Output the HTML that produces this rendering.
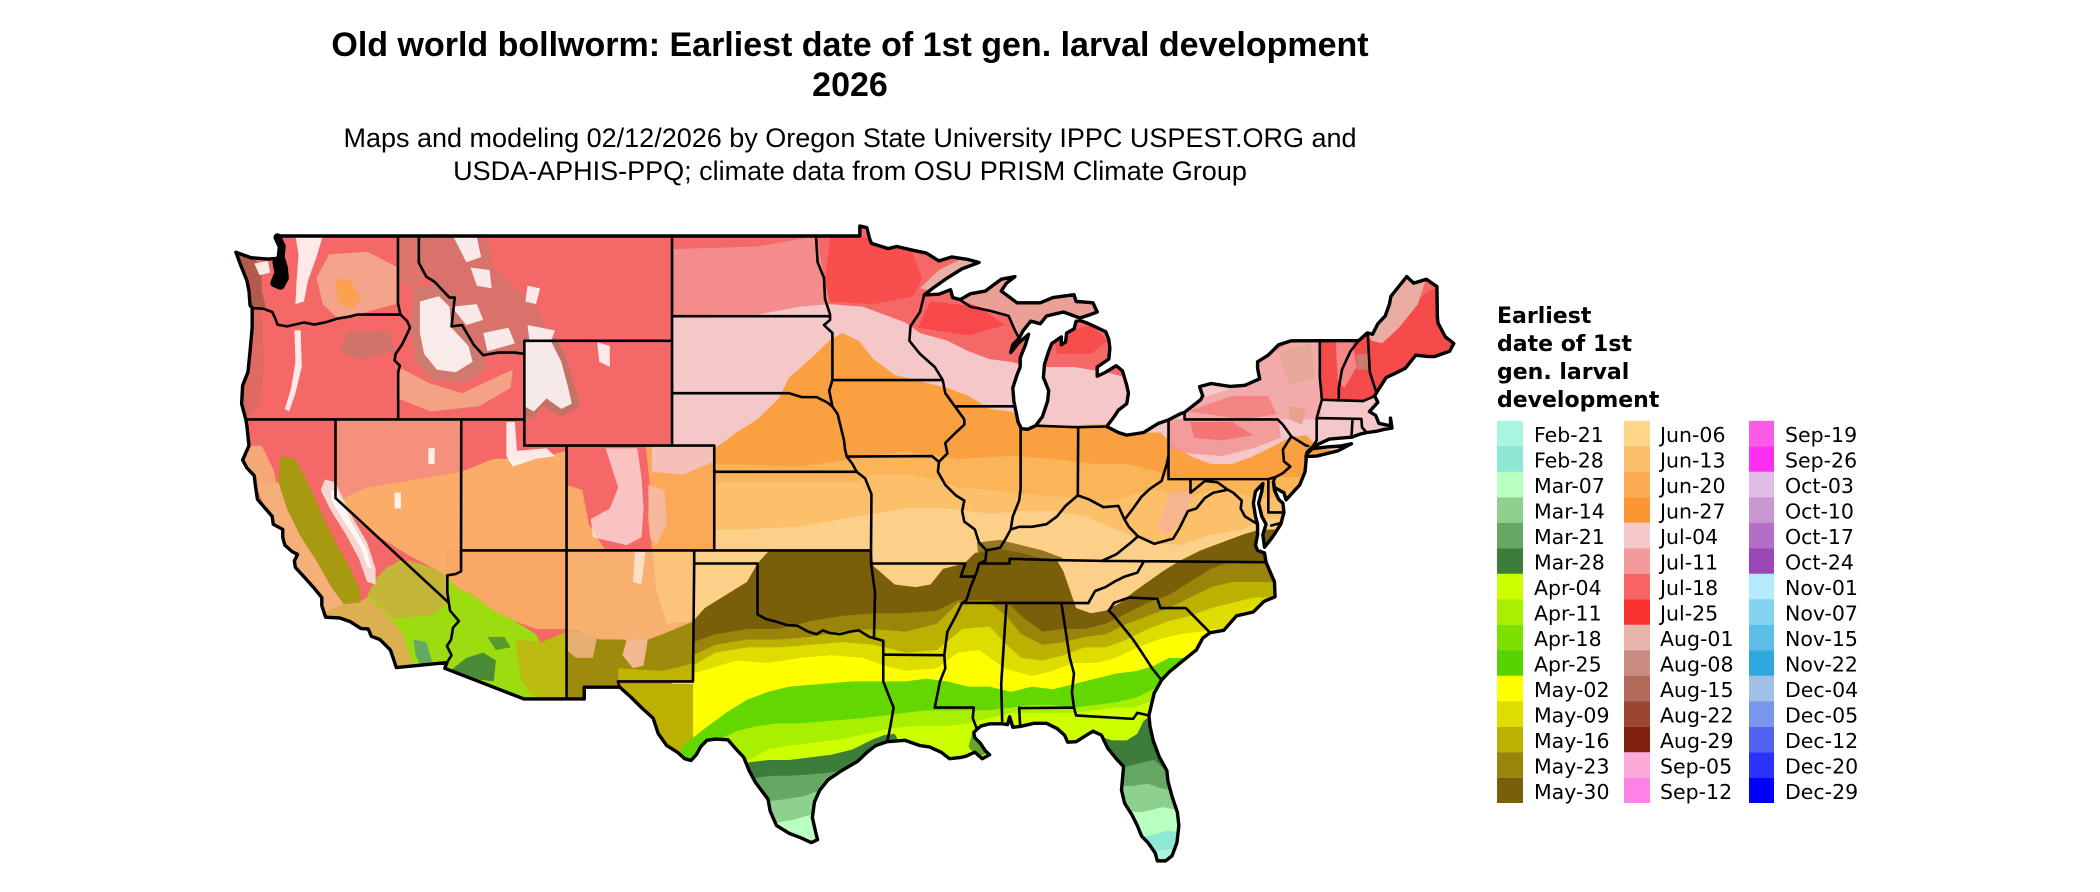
<!DOCTYPE html>
<html><head><meta charset="utf-8"><style>
html,body{margin:0;padding:0;background:#fff;width:2100px;height:892px;overflow:hidden}
svg{display:block}
.t{font-family:"Liberation Sans",Arial,sans-serif;fill:#000}
.l{font-family:"DejaVu Sans","Liberation Sans",sans-serif;fill:#000}
</style></head><body>
<svg width="2100" height="892" viewBox="0 0 2100 892" xmlns="http://www.w3.org/2000/svg" overflow="hidden">
<rect width="2100" height="892" fill="#fff"/>
<text class="t" x="850" y="56" font-size="34" font-weight="bold" text-anchor="middle">Old world bollworm: Earliest date of 1st gen. larval development</text>
<text class="t" x="850" y="96" font-size="34" font-weight="bold" text-anchor="middle">2026</text>
<text class="t" x="850" y="147" font-size="27" text-anchor="middle">Maps and modeling 02/12/2026 by Oregon State University IPPC USPEST.ORG and</text>
<text class="t" x="850" y="180" font-size="27" text-anchor="middle">USDA-APHIS-PPQ; climate data from OSU PRISM Climate Group</text>

<defs>
<clipPath id="us" clipPathUnits="userSpaceOnUse">
<path d="M-124.72,48.38 L-124.0,48.17 L-123.2,48.12 L-122.75,48.15 L-122.5,48.45 L-122.75,49.0 L-95.15,49.0 L-95.15,49.38 L-94.82,49.32 L-94.68,48.88 L-94.6,48.72 L-93.8,48.52 L-93.4,48.6 L-92.6,48.45 L-92.0,48.35 L-91.4,48.05 L-90.8,48.2 L-90.0,48.1 L-89.5,47.99 L-90.3,47.75 L-91.0,47.4 L-91.67,47.02 L-92.1,46.75 L-91.4,46.78 L-90.85,46.95 L-90.75,46.65 L-90.4,46.57 L-89.9,46.8 L-89.2,46.9 L-88.45,47.35 L-87.8,47.45 L-88.2,47.2 L-88.45,46.9 L-87.7,46.45 L-87.2,46.45 L-86.6,46.45 L-86.0,46.65 L-85.0,46.76 L-84.9,46.5 L-84.5,46.48 L-84.1,46.45 L-83.9,46.1 L-84.3,45.98 L-84.72,45.87 L-85.5,46.1 L-86.3,45.95 L-86.6,45.65 L-86.9,45.72 L-87.05,45.75 L-87.4,45.4 L-87.6,45.1 L-87.9,44.85 L-88.0,44.55 L-87.65,44.9 L-87.15,45.25 L-87.3,44.85 L-87.55,44.35 L-87.55,44.0 L-87.7,43.7 L-87.9,43.2 L-87.85,42.7 L-87.8,42.5 L-87.65,41.9 L-87.5,41.65 L-87.2,41.62 L-86.82,41.76 L-86.5,42.1 L-86.25,42.7 L-86.2,43.1 L-86.45,43.6 L-86.4,44.1 L-86.2,44.6 L-86.05,44.9 L-85.6,45.15 L-85.6,44.85 L-85.4,44.95 L-85.35,45.3 L-85.0,45.45 L-84.9,45.75 L-84.72,45.78 L-84.3,45.65 L-83.5,45.35 L-83.35,45.05 L-83.3,44.7 L-83.35,44.3 L-83.9,44.0 L-83.9,43.65 L-83.5,43.8 L-83.0,44.05 L-82.7,43.85 L-82.5,43.3 L-82.42,43.0 L-82.5,42.6 L-82.9,42.35 L-83.1,42.1 L-83.45,41.73 L-82.9,41.5 L-82.5,41.4 L-81.7,41.5 L-81.0,41.85 L-80.52,41.98 L-80.0,42.2 L-79.76,42.27 L-79.0,42.75 L-78.9,42.9 L-79.05,43.25 L-78.5,43.37 L-77.6,43.26 L-76.9,43.3 L-76.2,43.55 L-76.3,43.95 L-76.3,44.2 L-75.8,44.45 L-75.3,44.85 L-74.7,45.0 L-71.5,45.01 L-71.1,45.3 L-70.85,45.25 L-70.6,45.65 L-70.25,45.95 L-70.05,46.4 L-69.98,46.7 L-69.23,47.45 L-68.9,47.2 L-68.3,47.35 L-67.8,47.07 L-67.78,45.95 L-67.75,45.68 L-67.4,45.15 L-67.0,44.9 L-67.2,44.6 L-67.9,44.4 L-68.2,44.4 L-68.8,44.45 L-69.3,43.95 L-69.8,43.75 L-70.2,43.6 L-70.6,43.1 L-70.75,42.9 L-70.6,42.65 L-71.0,42.3 L-70.7,42.15 L-70.55,41.85 L-70.0,41.75 L-70.0,42.05 L-69.93,41.67 L-70.3,41.62 L-70.65,41.55 L-71.1,41.5 L-71.4,41.45 L-71.85,41.32 L-72.9,41.25 L-73.7,40.95 L-73.95,40.75 L-74.0,40.6 L-74.0,40.45 L-74.05,40.0 L-74.3,39.5 L-74.95,38.93 L-75.05,39.2 L-75.5,39.4 L-75.55,39.62 L-75.5,39.3 L-75.3,38.95 L-75.1,38.8 L-75.05,38.45 L-75.2,38.0 L-75.6,37.5 L-75.97,37.12 L-76.05,37.6 L-75.9,38.0 L-76.1,38.3 L-76.25,38.8 L-76.1,39.25 L-76.05,39.55 L-76.4,39.25 L-76.5,38.8 L-76.4,38.3 L-76.3,38.0 L-76.3,37.6 L-76.4,37.2 L-76.3,37.0 L-75.97,36.9 L-75.9,36.55 L-75.5,35.8 L-75.47,35.23 L-76.0,35.05 L-76.5,34.65 L-77.3,34.5 L-77.9,33.95 L-78.55,33.86 L-78.9,33.65 L-79.2,33.2 L-79.9,32.75 L-80.5,32.35 L-80.85,32.05 L-81.2,31.55 L-81.45,30.7 L-81.4,30.3 L-81.25,29.75 L-80.95,29.1 L-80.6,28.6 L-80.55,28.2 L-80.35,27.6 L-80.1,27.0 L-80.03,26.5 L-80.12,25.85 L-80.35,25.35 L-80.65,25.15 L-81.05,25.15 L-81.15,25.45 L-81.5,25.85 L-81.8,26.1 L-82.0,26.5 L-82.25,26.9 L-82.6,27.35 L-82.75,27.85 L-82.7,28.3 L-82.65,28.75 L-83.0,29.05 L-83.4,29.45 L-83.7,29.95 L-84.1,30.1 L-84.4,29.95 L-84.9,29.7 L-85.3,29.68 L-85.45,29.95 L-85.8,30.2 L-86.3,30.4 L-86.9,30.4 L-87.55,30.28 L-87.9,30.25 L-88.05,30.65 L-88.15,30.35 L-88.4,30.38 L-89.0,30.38 L-89.4,30.3 L-89.6,30.17 L-89.75,30.05 L-89.7,29.85 L-89.45,29.65 L-89.2,29.35 L-89.0,29.2 L-89.35,29.05 L-89.7,29.3 L-90.1,29.15 L-90.35,29.1 L-90.9,29.05 L-91.3,29.3 L-91.85,29.5 L-92.3,29.55 L-93.0,29.75 L-93.85,29.7 L-94.4,29.55 L-94.8,29.3 L-95.25,28.95 L-96.0,28.6 L-96.65,28.25 L-97.05,27.85 L-97.3,27.4 L-97.4,26.8 L-97.2,26.1 L-97.15,25.96 L-97.45,25.85 L-98.0,26.05 L-98.5,26.2 L-99.1,26.5 L-99.4,27.05 L-99.5,27.5 L-100.1,28.15 L-100.4,28.6 L-100.65,29.1 L-101.0,29.4 L-101.4,29.77 L-102.0,29.8 L-102.4,29.75 L-102.7,29.5 L-102.9,29.2 L-103.15,28.98 L-103.45,29.05 L-103.8,29.3 L-104.3,29.55 L-104.7,30.0 L-104.95,30.6 L-105.5,31.0 L-106.0,31.4 L-106.53,31.78 L-108.21,31.78 L-108.21,31.33 L-111.07,31.33 L-114.82,32.5 L-114.72,32.72 L-117.12,32.53 L-117.25,32.85 L-117.4,33.2 L-117.9,33.6 L-118.3,33.72 L-118.45,34.0 L-118.8,34.02 L-119.3,34.28 L-119.8,34.42 L-120.47,34.45 L-120.65,34.9 L-120.65,35.2 L-121.0,35.55 L-121.5,36.0 L-121.9,36.35 L-121.95,36.6 L-121.8,36.85 L-122.05,36.95 L-122.4,37.2 L-122.5,37.5 L-122.5,37.8 L-122.95,38.0 L-123.0,38.3 L-123.7,38.95 L-123.8,39.5 L-123.85,39.85 L-124.2,40.15 L-124.4,40.45 L-124.1,41.0 L-124.2,41.75 L-124.25,42.0 L-124.45,42.6 L-124.4,43.3 L-124.15,43.8 L-124.05,44.6 L-123.95,45.5 L-123.95,46.25 L-124.05,46.35 L-124.1,46.9 L-124.2,47.3 L-124.5,47.9 Z M-74.0,40.58 L-73.5,40.6 L-72.5,40.8 L-71.85,41.07 L-72.4,40.98 L-73.0,40.95 L-73.7,40.88 L-73.95,40.7 Z"/>
</clipPath>
</defs>

<g transform="matrix(21.1 0 0 -26.2 2867.5 1519.8)">
<g clip-path="url(#us)">
<rect x="-130" y="24.3" width="72" height="26" fill="#f56868"/>
<polygon fill="#f48c8c" points="-104.05,48.5 -100,48.6 -97.2,49 -96.5,46 -104.05,45.9"/>
<polygon fill="#f4c8c8" points="-104.05,45.9 -102,46.0 -100,46.0 -98,46.3 -96.6,46.4 -95,46.3 -94,46.0 -93,45.7 -92.3,45.3 -91,45.0 -90,44.6 -89,44.3 -88,44.2 -87.5,44.1 -86.5,44.0 -85,44.0 -83.5,43.8 -82,43.5 -80,43.0 -78,43.5 -76,44.3 -75,44.8 -74,45.2 -73.4,45.2 -73.3,43.0 -72.5,42.8 -71.5,42.8 -70.6,42.9 -69,43 -60,43 -60,24.3 -106.7,24.3 -106.7,31.9 -104.05,31.9"/>
<polygon fill="#fba040" points="-104.05,40.0 -102.5,40.6 -101,41.5 -100,42.0 -99,42.8 -98.5,43.6 -97.5,44.3 -96.6,45.0 -96,45.3 -95.2,45.0 -94.5,44.3 -93.5,43.7 -92,43.4 -91,43.2 -90,42.9 -89,42.4 -88,42.3 -87,41.9 -86,41.7 -84.5,41.8 -83.5,41.8 -82,41.5 -80.9,41.5 -80.5,41.2 -79.5,40.6 -78.5,40.3 -77.5,40.3 -76.5,40.6 -75.5,41.0 -74.8,41.3 -74,41.4 -73.5,41.0 -72,40.6 -60,40.6 -60,24.3 -106.7,24.3 -106.7,31.9 -104.05,31.9"/>
<polygon fill="#fcb458" points="-104.05,39.9 -102.05,40.3 -98,40.2 -95.3,40.5 -93,40.8 -90.5,40.5 -88,40.6 -86,40.5 -84,40.3 -82.5,40.3 -81,40.0 -80.5,39.8 -60,39.8 -60,24.3 -106.7,24.3 -106.7,31.9 -104.05,31.9"/>
<polygon fill="#fdc06a" points="-104.05,39.5 -102.05,39.6 -95.3,39.6 -94.5,39.9 -93,39.9 -91.5,39.7 -90.5,39.4 -89,39.3 -88,39.2 -86.5,39.1 -85,39.0 -84,38.9 -83,38.9 -82,39.2 -81.2,39.3 -80.5,39.2 -79.5,39.0 -78.5,39.3 -77.5,39.3 -76.5,39.0 -75.5,39.0 -74.5,39.3 -60,39.3 -60,24.3 -106.7,24.3 -106.7,31.9 -104.05,31.9"/>
<polygon fill="#fdd08a" points="-104.05,37.8 -101,37.8 -98,37.9 -96,38.2 -94.5,38.4 -93,38.6 -91,38.6 -89,38.4 -87.5,38.5 -86,38.5 -84.5,38.3 -83,37.8 -81.5,37.3 -80,37.2 -78.5,37.6 -77,37.8 -76,38.2 -60,38.2 -60,24.3 -106.7,24.3 -106.7,31.9 -104.05,31.9"/>
<polygon fill="#7a5f0a" points="-103.05,34.3 -102.5,34.8 -101.5,35.3 -100.5,35.8 -100,36.5 -99.5,36.95 -98,37.0 -94.6,37.0 -94.5,36.4 -93.5,35.7 -92.5,35.6 -91.8,35.7 -91.2,36.3 -90.2,36.5 -89.7,36.9 -88.5,37.05 -87.5,36.9 -86.5,36.7 -85.8,36.6 -85.5,36.2 -85.2,35.5 -84.9,34.8 -84.2,34.6 -83.5,34.7 -82.8,35.0 -82.2,35.4 -81.5,35.8 -80.8,36.2 -80,36.6 -79,37.0 -78,37.3 -77,37.6 -76.2,37.8 -60,37.8 -60,24.3 -106.7,24.3 -106.7,31.9 -103.05,31.9"/>
<polygon fill="#9a840a" points="-103.05,33.5 -102,33.8 -100.5,34.0 -99,34.0 -97.5,34.3 -96,34.5 -94.5,34.6 -93,34.6 -91.5,34.7 -90.5,35.1 -89,35.1 -88,34.9 -87.5,34.5 -86.5,33.9 -85.5,34.0 -84.5,34.0 -83.5,34.2 -82.5,34.6 -81.5,35.0 -80.5,35.3 -79.5,35.8 -78.5,36.3 -77.5,36.6 -76.5,36.6 -76,36.5 -60,36.5 -60,24.3 -106.7,24.3 -106.7,31.9 -103.05,31.9"/>
<polygon fill="#bcb000" points="-103.05,33.0 -102,33.4 -100.5,33.6 -99,33.6 -97.5,33.7 -96,33.9 -94.5,34.0 -93,33.9 -91.5,34.2 -90.5,35.0 -89,35.0 -88.2,34.5 -87.5,33.8 -86.5,33.4 -85.5,33.5 -84.5,33.7 -83.5,33.8 -82.5,34.2 -81.5,34.5 -80.5,34.8 -79.5,35.2 -78.5,35.6 -77.5,35.8 -76.5,35.8 -75.5,35.8 -60,35.8 -60,24.3 -106.7,24.3 -106.7,31.9 -103.05,31.9"/>
<polygon fill="#dddd00" points="-103.05,32.6 -102,33.1 -100.5,33.3 -99,33.3 -97.5,33.4 -96,33.5 -94.5,33.4 -93,33.1 -91.5,33.2 -90.3,34.0 -89,34.1 -88.2,33.4 -87.5,32.9 -86.5,32.8 -85.5,33.0 -84.5,33.3 -83.5,33.3 -82.5,33.6 -81.5,34.0 -80.5,34.3 -79.5,34.5 -78.5,34.8 -77.5,35.0 -76.5,35.2 -60,35.2 -60,24.3 -103.05,24.3"/>
<polygon fill="#ffff00" points="-103.05,32.3 -101,32.8 -99.5,32.7 -98,32.9 -96.5,33.0 -95,32.9 -94,32.6 -93,32.4 -91.5,32.5 -90.5,33.1 -89.5,33.2 -88.3,32.5 -87,32.2 -86,32.4 -85,32.7 -84,32.7 -83,32.9 -82,33.3 -81,33.6 -80,33.8 -79,33.9 -78.5,34.0 -60,34.0 -60,24.3 -103.05,24.3"/>
<polygon fill="#62d800" points="-103.6,29.5 -102.5,30.2 -101.5,30.8 -100.5,31.3 -99.5,31.6 -98.5,31.8 -97,31.9 -95.5,32.0 -94,32.0 -93,32.0 -92,32.1 -91,32.0 -90,31.8 -89,31.8 -88,31.6 -87,31.8 -86,31.7 -85,31.9 -84,32.1 -83,32.3 -82,32.4 -81.2,32.6 -80.5,32.9 -60,32.9 -60,24.3 -103.6,24.3"/>
<polygon fill="#a8f000" points="-103.2,29.0 -102,29.7 -101,30.1 -100,30.3 -99,30.4 -98,30.4 -96.5,30.5 -95,30.6 -94,30.7 -93,30.8 -92,30.9 -91,30.9 -90,30.9 -89,30.9 -88,31.0 -87,31.1 -86,31.1 -85,31.0 -84,31.1 -83,31.2 -82,31.4 -81.5,31.6 -81,31.8 -60,31.8 -60,24.3 -103.2,24.3"/>
<polygon fill="#ccff00" points="-100.6,28.9 -99.5,29.4 -98.5,29.55 -97.5,29.65 -96,29.8 -94.8,30.0 -93.8,30.2 -92.5,30.3 -91,30.3 -90,30.4 -89,30.6 -88,30.8 -87,30.8 -86,30.8 -85,30.8 -84,30.9 -83,31.0 -82.2,31.0 -81.5,31.2 -60,31.2 -60,24.3 -100.6,24.3"/>
<polygon fill="#3c7d3c" points="-100.5,28.9 -99.5,29.0 -98.5,29.0 -97.5,29.1 -96.5,29.2 -95.5,29.4 -95,29.6 -94.5,29.8 -94,29.95 -93.5,30.0 -93.3,29.7 -93.3,24.3 -100.5,24.3"/>
<polygon fill="#64a864" points="-100.2,28.3 -99.3,28.4 -98.5,28.4 -97.5,28.45 -96.8,28.5 -96,28.6 -96,24.3 -100.2,24.3"/>
<polygon fill="#8ed08e" points="-99.7,27.4 -98.7,27.5 -97.9,27.6 -97.2,27.8 -96.5,27.9 -96.5,24.3 -99.7,24.3"/>
<polygon fill="#b8ffc0" points="-99.2,26.6 -98.4,26.7 -97.5,26.9 -96.8,27.0 -96.8,24.3 -99.2,24.3"/>
<polygon fill="#3c7d3c" points="-84.2,30.0 -83.2,29.75 -82.5,29.75 -82.0,30.0 -81.7,30.5 -81.2,30.75 -80.4,29.5 -79.5,27.5 -79.5,24.3 -84.2,24.3"/>
<polygon fill="#64a864" points="-83.5,28.8 -82.5,28.75 -81.8,28.9 -81.2,29.0 -80.6,28.6 -79.5,28.0 -79.5,24.3 -83.5,24.3"/>
<polygon fill="#8ed08e" points="-83.5,28.1 -82.3,28.0 -81.5,28.1 -80.8,27.9 -79.5,27.8 -79.5,24.3 -83.5,24.3"/>
<polygon fill="#b8ffc0" points="-83,27.1 -81.8,27.0 -80.8,27.2 -79.5,27.0 -79.5,24.3 -83,24.3"/>
<polygon fill="#8ee8d4" points="-82.5,26.1 -81.5,26.1 -80.6,26.3 -79.5,26.2 -79.5,24.3 -82.5,24.3"/>
<polygon fill="#aaf5e0" points="-81.5,25.5 -80.5,25.6 -79.5,25.5 -79.5,24.3 -81.5,24.3"/>
<polygon fill="#3c7d3c" fill-opacity="0.7" points="-89.8,30.1 -89.3,30.0 -89.0,29.3 -89.6,29.1 -90.0,29.5"/>
<polygon fill="#7a5f0a" fill-opacity="0.8" points="-89.6,37.3 -88.5,37.4 -87.5,37.2 -86.5,37.0 -85.5,36.7 -86.5,36.5 -89.5,36.5"/>
<polygon fill="#f2a4a4" fill-opacity="0.85" points="-79.8,42.3 -79.0,42.8 -76.3,43.5 -76.2,44.2 -74.7,45.05 -73.35,45.05 -73.3,42.0 -75.3,42.0 -79.76,42.0"/>
<polygon fill="#f29494" fill-opacity="0.85" points="-80.52,42.0 -75.3,42.0 -75.2,41.3 -76.5,40.9 -78,40.6 -79.5,40.7 -80.52,40.9"/>
<polygon fill="#f65a5a" fill-opacity="0.6" points="-79.5,41.9 -77.5,41.9 -76.5,41.4 -78,41.2 -79.3,41.3"/>
<polygon fill="#f44a4a" points="-73.35,45.1 -71.5,45.1 -67,47.5 -66.5,44.5 -70.8,42.87 -71.3,42.7 -72.45,42.73 -73.25,42.75"/>
<polygon fill="#e8aca2" points="-71.1,45.3 -70.0,46.7 -69.2,47.5 -68.3,47.4 -68.7,46.4 -69.6,45.5 -70.4,44.9 -70.9,45.0"/>
<polygon fill="#f4a0a0" fill-opacity="0.7" points="-72.6,45 -71.8,45 -71.6,44 -72.2,43.2 -72.5,43.5"/>
<polygon fill="#c08878" fill-opacity="0.8" points="-71.6,44.5 -71.0,44.5 -71.1,43.9 -71.6,43.9"/>
<polygon fill="#e6a898" points="-75.3,44.6 -73.8,44.9 -73.6,43.6 -74.8,43.3"/>
<polygon fill="#f46c6c" fill-opacity="0.6" points="-79.6,42.3 -77.5,42.9 -75.8,42.9 -75.4,42.2 -77,42.0"/>
<polygon fill="#e8a090" points="-74.8,42.5 -74.0,42.4 -74.2,41.8 -74.8,42.0"/>
<polygon fill="#e8aaa0" fill-opacity="0.85" points="-90.5,47.6 -84,47.5 -83.8,46.0 -84.7,45.9 -86.5,45.6 -87.6,45.1 -88,45.9 -89.0,46.15 -90.42,46.57"/>
<polygon fill="#e6b0a6" points="-92.3,47.0 -91.4,47.7 -90.4,48.1 -89.4,48.1 -90.5,47.6 -91.7,46.9"/>
<polygon fill="#f84646" fill-opacity="0.75" points="-96.5,49.2 -92.8,48.6 -92.2,47.4 -92.6,46.7 -94.5,46.4 -96.6,46.5 -96.8,47.4"/>
<polygon fill="#f83c3c" fill-opacity="0.7" points="-91.8,46.5 -89.5,46.3 -88.3,45.6 -90,45.2 -92.4,45.5"/>
<polygon fill="#f83c3c" fill-opacity="0.6" points="-86,45.2 -84.2,45.6 -83.4,45.0 -84.2,44.5 -85.8,44.5"/>
<polygon fill="#f4b0a0" fill-opacity="0.7" points="-80.5,39.2 -79.3,39.3 -79.8,38.2 -80.6,37.6 -81,37.9"/>
<polygon fill="#f4907c" points="-120,42 -114.04,42 -114.04,40.0 -115.5,39.8 -117,39.6 -118.5,39.4 -120,38.8"/>
<polygon fill="#f4a48a" points="-120.3,48.3 -118.5,48.4 -117.04,47.8 -117.04,46.43 -118.98,46.0 -119.9,45.85 -120.6,46.4 -120.9,47.4"/>
<polygon fill="#fba050" points="-120.0,47.4 -119.3,47.3 -118.8,46.6 -119.2,46.2 -119.9,46.5"/>
<polygon fill="#f4a286" points="-117.03,44.0 -115.6,43.4 -114.0,43.0 -112.4,43.6 -111.6,43.9 -111.7,43.2 -113.2,42.5 -115.5,42.3 -117.03,42.8"/>
<polygon fill="#c86c5c" fill-opacity="0.5" points="-124.6,46.25 -123.5,46.2 -123.4,44 -123.6,42.5 -124.5,42"/>
<polygon fill="#a85848" fill-opacity="0.85" points="-124.8,48.5 -123.9,48.3 -123.5,47.6 -123.5,46.9 -123.3,46.3 -124.2,46.2 -124.6,47.2"/>
<polygon fill="#c07868" fill-opacity="0.7" points="-119.5,45.3 -117.5,45.4 -117.2,44.6 -118.8,44.3 -119.8,44.6"/>
<polygon fill="#fbac68" points="-120,38.85 -118.5,39.4 -117,39.6 -115.5,39.8 -114.04,40.0 -112.5,40.5 -111.5,40.5 -110.5,40.5 -109.05,40.8 -109.05,39.5 -108.3,39.3 -108.0,38.0 -107.2,37.0 -114.7,37.0 -114.7,36.0 -115.3,36.3 -116.5,36.8 -117.5,37.3 -118.5,37.8 -119.5,38.5"/>
<polygon fill="#faa865" points="-114.7,37.0 -109.05,37.0 -109.05,34.0 -110.5,34.0 -111.5,34.3 -112.5,34.7 -113.5,35.3 -114.3,35.6 -114.7,36.0"/>
<polygon fill="#f8b070" points="-109.05,37.0 -103.0,37.0 -103.0,34.3 -104.5,33.8 -105.5,33.5 -106.5,33.6 -107.5,33.6 -108.5,33.9 -109.05,34.0"/>
<polygon fill="#fcc47a" points="-105.0,37.0 -103.0,37.0 -103.0,34.3 -104.3,34.2 -104.8,35.5 -104.9,36.5"/>
<polygon fill="#9e8a0c" points="-109.05,34.0 -108.5,33.9 -107.5,33.6 -106.5,33.6 -105.5,33.5 -104.5,33.8 -103.0,34.3 -103.0,32.0 -106.62,32.0 -106.53,31.78 -108.21,31.78 -108.21,31.33 -109.05,31.33"/>
<polygon fill="#c0b400" points="-106.6,32.5 -104.5,32.4 -103,32.7 -103,32.0 -106.6,32.0"/>
<polygon fill="#f2b890" points="-106.2,33.6 -105.2,33.6 -105.4,32.6 -105.9,32.5 -106.4,33.0"/>
<polygon fill="#e8b070" points="-109.05,34.0 -107.6,33.7 -107.8,32.9 -108.6,32.9 -109.05,33.2"/>
<polygon fill="#fba858" points="-105.3,41.0 -102.05,41.0 -102.05,37.0 -105.0,37.0 -105.2,38.3 -105.1,39.5"/>
<polygon fill="#f4c0b8" points="-105.0,41.0 -102.05,41.0 -102.05,40.4 -103.5,39.9 -105.0,40.0"/>
<polygon fill="#f4c0b8" fill-opacity="0.7" points="-105.2,39.5 -104.4,39.3 -104.3,38.0 -104.8,37.2 -105.1,37.5"/>
<polygon fill="#9cdc10" points="-118.0,36.0 -117,36.6 -116,36.5 -115.3,36.3 -114.7,36.0 -114.3,35.6 -113.5,35.3 -112.5,34.7 -111.5,34.3 -110.5,33.8 -110.0,33.0 -110.2,31.33 -111.07,31.33 -114.82,32.5 -114.72,32.72 -116.3,32.6 -116.6,33.2 -116.8,33.8 -117.3,34.3 -117.9,34.8 -118.5,35.2"/>
<polygon fill="#c4b438" points="-118.5,35.3 -117.3,34.4 -115.5,34.5 -114.6,35.0 -114.7,36.0 -115.3,36.3 -116.5,36.6 -117.5,36.4 -118.0,36.0"/>
<polygon fill="#bcbc10" points="-111.5,33.6 -110.2,33.5 -109.05,33.9 -109.05,31.33 -110.5,31.33 -111.2,32.0"/>
<polygon fill="#3c7d3c" fill-opacity="0.85" points="-114.5,32.45 -113.8,32.9 -113.0,33.1 -112.4,32.8 -112.5,32.0 -113.5,32.1"/>
<polygon fill="#3c7d3c" fill-opacity="0.7" points="-112.8,33.7 -112.0,33.7 -111.7,33.3 -112.4,33.2"/>
<polygon fill="#64a864" points="-116.3,33.6 -115.7,33.5 -115.4,32.7 -116.0,32.65 -116.2,33.0"/>
<polygon fill="#f4b078" points="-123.8,39.5 -122.7,39.6 -122.3,38.6 -121.7,37.6 -120.9,36.6 -120.2,35.6 -119.6,34.95 -120.6,34.5 -121.5,35.9 -122.5,37.4 -123.2,38.4"/>
<polygon fill="#f4a878" points="-124.3,41.0 -123.5,41.0 -122.9,40.0 -122.8,39.5 -123.9,39.5 -124.4,40.4"/>
<polygon fill="#a89a10" points="-122.6,40.6 -121.9,40.5 -121.2,39.4 -120.6,38.3 -120.0,37.3 -119.3,36.3 -118.8,35.4 -118.9,35.0 -119.6,34.95 -120.2,35.6 -120.9,36.6 -121.7,37.6 -122.3,38.6 -122.7,39.6"/>
<polygon fill="#dcb050" points="-120.6,34.6 -119.6,34.95 -118.9,35.0 -118.5,35.2 -117.9,34.8 -117.3,34.3 -116.8,33.8 -116.6,33.2 -116.3,32.6 -117.2,32.5 -118,33.5 -119,34.1"/>
<polygon fill="#f6d6d0" points="-120.5,39.7 -120.0,39.6 -119.3,38.4 -118.5,37.3 -118.1,36.3 -118.1,35.7 -118.5,35.8 -118.9,36.7 -119.5,37.6 -120.2,38.5 -120.7,39.3"/>
<polygon fill="#ffffff" fill-opacity="0.85" points="-120.2,39.3 -119.9,39.2 -119.2,38.0 -118.5,37.0 -118.3,36.3 -118.5,36.4 -118.8,37.1 -119.5,38.0 -120.2,38.9"/>
<polygon fill="#c47a6c" fill-opacity="0.6" points="-116.05,49.0 -112.8,49.0 -112.5,47.8 -111.5,47.0 -110.5,46.4 -110.0,45.5 -110.5,45.0 -111.05,44.5 -113.0,44.45 -114.5,45.55 -114.35,46.65 -115.3,47.25 -116.05,47.98"/>
<polygon fill="#c08070" fill-opacity="0.7" points="-116.3,47.0 -115.0,47.2 -114.3,46.6 -114.2,45.6 -113.2,44.8 -112.8,44.0 -113.8,43.4 -115.4,43.5 -116.2,44.2 -116.4,45.3"/>
<polygon fill="#c88070" fill-opacity="0.55" points="-117.04,49 -116.05,49 -116.05,48 -115.7,47.45 -116.3,47.0 -117.04,47.3"/>
<polygon fill="#b87466" fill-opacity="0.8" points="-111.05,45.1 -109.5,45.1 -109.0,44.2 -108.7,43.3 -108.4,42.5 -109.3,42.1 -110.2,42.5 -110.7,42.0 -111.05,42.2"/>
<g fill="#ffffff" fill-opacity="0.85">
<polygon points="-121.9,49.0 -120.6,49.0 -120.9,48.2 -121.3,47.3 -121.5,46.5 -121.9,46.4 -121.85,47.2 -121.75,48.3"/>
<polygon points="-123.85,47.95 -123.2,48.05 -123.1,47.6 -123.6,47.5"/>
<polygon points="-121.95,45.4 -121.65,45.4 -121.6,44.0 -121.9,43.0 -122.2,42.3 -122.4,42.4 -122.1,43.2 -121.9,44.2"/>
<polygon points="-116.0,46.5 -115.1,46.7 -114.6,46.3 -114.5,45.5 -113.7,44.8 -113.5,44.2 -114.3,43.8 -115.2,43.9 -115.8,44.5 -116.0,45.3"/>
<polygon points="-114.4,48.95 -113.3,48.95 -113.1,48.2 -113.8,48.0"/>
<polygon points="-113.6,47.8 -112.7,47.7 -112.6,47.0 -113.3,47.1"/>
<polygon points="-114.5,46.3 -113.3,46.4 -113.0,45.8 -113.8,45.6"/>
<polygon points="-113.0,45.3 -111.8,45.5 -111.5,44.9 -112.8,44.6"/>
<polygon points="-110.9,45.6 -109.6,45.4 -109.8,44.95 -110.8,44.95"/>
<polygon points="-110.9,47.1 -110.3,47.0 -110.5,46.4 -111.0,46.5"/>
<polygon points="-111.05,45.0 -109.8,45.0 -109.3,44.2 -109.0,43.3 -108.8,42.6 -109.3,42.4 -110.0,42.8 -110.6,42.3 -111.05,42.5"/>
<polygon points="-107.6,44.95 -107.0,44.8 -107.0,44.0 -107.5,44.2"/>
<polygon points="-111.9,41.9 -111.5,41.9 -111.4,40.8 -110.0,40.9 -109.6,40.6 -110.5,40.5 -111.6,40.2 -111.9,40.6"/>
<polygon points="-115.6,40.9 -115.3,40.9 -115.3,40.3 -115.6,40.3"/>
<polygon points="-117.2,39.2 -116.9,39.2 -116.9,38.6 -117.2,38.6"/>
</g>
<g fill="#ffffff" fill-opacity="0.6">
<polygon points="-107.2,40.9 -105.7,40.9 -105.5,39.8 -105.4,38.6 -105.5,37.5 -106.2,37.2 -107.8,37.5 -107.9,38.2 -107.0,38.6 -106.6,39.4"/>
<polygon points="-105.8,37.0 -105.3,37.0 -105.5,35.7 -105.9,35.8"/>
</g>
</g>

<g fill="none" stroke="#000" stroke-linejoin="round" stroke-linecap="round">
<path vector-effect="non-scaling-stroke" stroke-width="2.6" d="
M-123.95,46.25 L-123.4,46.22 L-123.0,46.1 L-122.85,45.85 L-122.75,45.62 L-122.3,45.55 L-121.5,45.7 L-121.0,45.62 L-120.5,45.7 L-119.9,45.85 L-119.3,45.93 L-118.98,46.0 L-116.92,46.0
M-117.04,49.0 L-117.04,46.43 L-116.92,46.0
M-116.92,46.0 L-116.6,45.75 L-116.47,45.5 L-116.7,45.1 L-116.85,44.85 L-117.15,44.5 L-117.2,44.25 L-116.95,44.05 L-117.03,43.8 L-117.03,42.0
M-124.25,42.0 L-111.05,42.0
M-120.0,42.0 L-120.0,39.0 L-114.63,35.0
M-114.63,35.0 L-114.57,34.7 L-114.15,34.3 L-114.43,34.05 L-114.52,33.6 L-114.72,33.35 L-114.5,33.0 L-114.72,32.72
M-114.63,35.0 L-114.7,35.4 L-114.7,36.05 L-114.3,36.1 L-114.05,36.2 L-114.05,37.0
M-114.05,37.0 L-114.04,42.0
M-116.05,49.0 L-116.05,47.98 L-115.7,47.45 L-115.3,47.25 L-114.6,46.65 L-114.35,46.65 L-114.5,45.55 L-114.0,45.6 L-113.45,44.85 L-113.0,44.45 L-112.3,44.55 L-111.5,44.55 L-111.05,44.5
M-111.05,45.0 L-111.05,41.0 L-109.05,41.0
M-111.05,45.0 L-104.05,45.0
M-104.05,49.0 L-104.05,41.0
M-104.05,45.94 L-96.56,45.94
M-104.05,43.0 L-98.5,43.0 L-97.9,42.85 L-97.2,42.85 L-96.7,42.65 L-96.45,42.49
M-109.05,41.0 L-102.05,41.0 L-102.05,40.0 L-95.3,40.0
M-109.05,41.0 L-109.05,31.33
M-114.05,37.0 L-94.62,37.0
M-102.05,40.0 L-102.05,37.0
M-103.0,37.0 L-103.0,36.5 L-100.0,36.5 L-100.0,34.56
M-103.0,36.5 L-103.06,32.0 L-106.62,32.0 L-106.53,31.78
M-100.0,34.56 L-99.6,34.38 L-99.2,34.3 L-98.6,34.15 L-98.1,34.12 L-97.6,33.9 L-97.2,33.8 L-96.9,33.95 L-96.6,33.85 L-96.1,33.8 L-95.6,33.9 L-95.2,33.95 L-94.7,33.7 L-94.04,33.55
M-94.62,37.0 L-94.62,36.5 L-94.43,35.4 L-94.48,33.64
M-94.04,33.55 L-94.04,32.0 L-93.8,31.5 L-93.55,31.0 L-93.7,30.3 L-93.85,29.7
M-94.04,33.02 L-91.15,33.0
M-97.23,49.0 L-97.15,48.0 L-96.85,47.4 L-96.8,46.6 L-96.56,46.0 L-96.56,45.8 L-96.85,45.6 L-96.45,45.3 L-96.45,43.5
M-96.45,43.5 L-91.22,43.5
M-96.45,43.5 L-96.6,43.1 L-96.45,42.49 L-96.2,42.2 L-96.05,41.7 L-95.9,41.2 L-95.85,40.85 L-95.77,40.58 L-95.5,40.3 L-95.3,40.0 L-94.9,39.75 L-94.6,39.15 L-94.62,37.0
M-95.77,40.58 L-91.73,40.6 L-91.4,40.38
M-92.1,46.75 L-92.3,46.1 L-92.75,45.55 L-92.8,45.0 L-92.3,44.5 L-91.6,44.0 L-91.22,43.5
M-91.22,43.5 L-91.1,43.0 L-90.65,42.5 L-90.2,42.0 L-90.2,41.8 L-90.6,41.5 L-91.1,41.1 L-91.0,40.7 L-91.4,40.38 L-91.45,40.0 L-91.1,39.5 L-90.6,39.1 L-90.2,38.9 L-90.3,38.5 L-90.2,38.1 L-89.7,37.8 L-89.5,37.3 L-89.15,37.0 L-89.2,36.6 L-89.5,36.5 L-89.6,36.2 L-89.7,36.0
M-94.62,36.5 L-90.15,36.5 L-90.37,36.0 L-89.7,36.0
M-89.7,36.0 L-89.9,35.6 L-90.1,35.1 L-90.3,35.0 L-90.6,34.5 L-91.0,33.9 L-91.15,33.0 L-91.1,32.5 L-91.35,32.0 L-91.6,31.0 L-89.75,31.0 L-89.8,30.6 L-89.6,30.18
M-90.3,35.0 L-84.32,34.99
M-88.2,35.0 L-88.45,31.9 L-88.4,30.37
M-85.6,35.0 L-85.2,32.9 L-85.0,32.3 L-85.1,31.6 L-85.0,31.0
M-87.6,30.98 L-85.0,31.0
M-87.6,31.0 L-87.55,30.28
M-85.0,31.0 L-84.9,30.7 L-82.2,30.57 L-82.0,30.8 L-81.45,30.7
M-80.85,32.05 L-81.3,32.5 L-81.7,33.0 L-82.2,33.6 L-82.6,34.0 L-83.1,34.5 L-83.35,34.7 L-83.1,35.0
M-83.1,35.0 L-82.4,35.2 L-81.05,35.15 L-80.9,34.8 L-79.7,34.8 L-78.55,33.86
M-84.32,34.99 L-84.0,35.45 L-83.5,35.6 L-83.1,35.8 L-82.6,36.0 L-82.0,36.15 L-81.68,36.59
M-81.68,36.59 L-75.9,36.55
M-89.5,36.5 L-88.05,36.5 L-88.05,36.68 L-86.0,36.63 L-83.68,36.6 L-81.68,36.59
M-83.68,36.6 L-83.0,36.85 L-82.3,37.3 L-81.97,37.54 L-82.4,37.9 L-82.6,38.17
M-81.97,37.54 L-81.2,37.25 L-80.3,37.45 L-80.0,37.85 L-79.6,38.5 L-79.2,38.6 L-78.8,39.0 L-78.4,39.2 L-77.8,39.3 L-77.72,39.32
M-77.72,39.32 L-78.2,39.6 L-78.8,39.65 L-79.1,39.45 L-79.48,39.2 L-79.48,39.72
M-80.52,39.72 L-75.79,39.72
M-80.52,40.64 L-80.52,39.72
M-80.52,40.64 L-80.6,40.3 L-80.85,39.65 L-81.4,39.35 L-81.8,39.05 L-82.2,38.6 L-82.6,38.17 L-82.9,38.7 L-83.6,38.65 L-84.3,38.95 L-84.82,39.1 L-85.4,38.7 L-85.8,38.3 L-86.3,38.0 L-87.0,37.9 L-87.6,37.9 L-88.0,37.8 L-88.2,37.5 L-88.5,37.1 L-89.15,37.0
M-84.82,39.1 L-84.8,41.7
M-87.53,41.76 L-87.53,39.35 L-87.6,38.9 L-87.9,38.3 L-88.0,37.8
M-86.82,41.76 L-84.8,41.7 L-83.45,41.73
M-80.52,41.98 L-80.52,40.64
M-79.76,42.27 L-79.76,42.0 L-75.35,42.0 L-75.1,41.8 L-74.7,41.35 L-74.0,41.0 L-73.9,40.99
M-74.7,41.35 L-75.1,40.85 L-75.05,40.4 L-74.75,40.2 L-75.1,39.95 L-75.45,39.8 L-75.55,39.62
M-75.79,39.72 L-75.45,39.8
M-75.79,39.72 L-75.79,38.45 L-75.05,38.45
M-75.65,37.95 L-75.25,38.03
M-77.72,39.32 L-77.45,39.2 L-77.05,38.9 L-77.1,38.6 L-76.9,38.3 L-76.3,38.0
M-90.42,46.57 L-89.9,46.3 L-89.0,46.15 L-88.1,45.95 L-87.8,45.4 L-87.6,45.1
M-90.65,42.5 L-87.8,42.5
M-73.35,45.01 L-73.35,43.6 L-73.25,42.75
M-71.5,45.01 L-71.9,44.6 L-72.3,43.9 L-72.45,43.2 L-72.45,42.73
M-73.25,42.75 L-72.45,42.73 L-71.3,42.7 L-70.8,42.87
M-71.08,45.3 L-70.98,43.8 L-70.7,43.1
M-73.25,42.75 L-73.5,42.05 L-73.5,41.2 L-73.7,40.95
M-73.5,42.05 L-71.38,42.02 L-71.35,41.7 L-71.13,41.5
M-71.8,42.02 L-71.85,41.32
"/>
<path vector-effect="non-scaling-stroke" stroke-width="3.4" d="M-124.72,48.38 L-124.0,48.17 L-123.2,48.12 L-122.75,48.15 L-122.5,48.45 L-122.75,49.0 L-95.15,49.0 L-95.15,49.38 L-94.82,49.32 L-94.68,48.88 L-94.6,48.72 L-93.8,48.52 L-93.4,48.6 L-92.6,48.45 L-92.0,48.35 L-91.4,48.05 L-90.8,48.2 L-90.0,48.1 L-89.5,47.99 L-90.3,47.75 L-91.0,47.4 L-91.67,47.02 L-92.1,46.75 L-91.4,46.78 L-90.85,46.95 L-90.75,46.65 L-90.4,46.57 L-89.9,46.8 L-89.2,46.9 L-88.45,47.35 L-87.8,47.45 L-88.2,47.2 L-88.45,46.9 L-87.7,46.45 L-87.2,46.45 L-86.6,46.45 L-86.0,46.65 L-85.0,46.76 L-84.9,46.5 L-84.5,46.48 L-84.1,46.45 L-83.9,46.1 L-84.3,45.98 L-84.72,45.87 L-85.5,46.1 L-86.3,45.95 L-86.6,45.65 L-86.9,45.72 L-87.05,45.75 L-87.4,45.4 L-87.6,45.1 L-87.9,44.85 L-88.0,44.55 L-87.65,44.9 L-87.15,45.25 L-87.3,44.85 L-87.55,44.35 L-87.55,44.0 L-87.7,43.7 L-87.9,43.2 L-87.85,42.7 L-87.8,42.5 L-87.65,41.9 L-87.5,41.65 L-87.2,41.62 L-86.82,41.76 L-86.5,42.1 L-86.25,42.7 L-86.2,43.1 L-86.45,43.6 L-86.4,44.1 L-86.2,44.6 L-86.05,44.9 L-85.6,45.15 L-85.6,44.85 L-85.4,44.95 L-85.35,45.3 L-85.0,45.45 L-84.9,45.75 L-84.72,45.78 L-84.3,45.65 L-83.5,45.35 L-83.35,45.05 L-83.3,44.7 L-83.35,44.3 L-83.9,44.0 L-83.9,43.65 L-83.5,43.8 L-83.0,44.05 L-82.7,43.85 L-82.5,43.3 L-82.42,43.0 L-82.5,42.6 L-82.9,42.35 L-83.1,42.1 L-83.45,41.73 L-82.9,41.5 L-82.5,41.4 L-81.7,41.5 L-81.0,41.85 L-80.52,41.98 L-80.0,42.2 L-79.76,42.27 L-79.0,42.75 L-78.9,42.9 L-79.05,43.25 L-78.5,43.37 L-77.6,43.26 L-76.9,43.3 L-76.2,43.55 L-76.3,43.95 L-76.3,44.2 L-75.8,44.45 L-75.3,44.85 L-74.7,45.0 L-71.5,45.01 L-71.1,45.3 L-70.85,45.25 L-70.6,45.65 L-70.25,45.95 L-70.05,46.4 L-69.98,46.7 L-69.23,47.45 L-68.9,47.2 L-68.3,47.35 L-67.8,47.07 L-67.78,45.95 L-67.75,45.68 L-67.4,45.15 L-67.0,44.9 L-67.2,44.6 L-67.9,44.4 L-68.2,44.4 L-68.8,44.45 L-69.3,43.95 L-69.8,43.75 L-70.2,43.6 L-70.6,43.1 L-70.75,42.9 L-70.6,42.65 L-71.0,42.3 L-70.7,42.15 L-70.55,41.85 L-70.0,41.75 L-70.0,42.05 L-69.93,41.67 L-70.3,41.62 L-70.65,41.55 L-71.1,41.5 L-71.4,41.45 L-71.85,41.32 L-72.9,41.25 L-73.7,40.95 L-73.95,40.75 L-74.0,40.6 L-74.0,40.45 L-74.05,40.0 L-74.3,39.5 L-74.95,38.93 L-75.05,39.2 L-75.5,39.4 L-75.55,39.62 L-75.5,39.3 L-75.3,38.95 L-75.1,38.8 L-75.05,38.45 L-75.2,38.0 L-75.6,37.5 L-75.97,37.12 L-76.05,37.6 L-75.9,38.0 L-76.1,38.3 L-76.25,38.8 L-76.1,39.25 L-76.05,39.55 L-76.4,39.25 L-76.5,38.8 L-76.4,38.3 L-76.3,38.0 L-76.3,37.6 L-76.4,37.2 L-76.3,37.0 L-75.97,36.9 L-75.9,36.55 L-75.5,35.8 L-75.47,35.23 L-76.0,35.05 L-76.5,34.65 L-77.3,34.5 L-77.9,33.95 L-78.55,33.86 L-78.9,33.65 L-79.2,33.2 L-79.9,32.75 L-80.5,32.35 L-80.85,32.05 L-81.2,31.55 L-81.45,30.7 L-81.4,30.3 L-81.25,29.75 L-80.95,29.1 L-80.6,28.6 L-80.55,28.2 L-80.35,27.6 L-80.1,27.0 L-80.03,26.5 L-80.12,25.85 L-80.35,25.35 L-80.65,25.15 L-81.05,25.15 L-81.15,25.45 L-81.5,25.85 L-81.8,26.1 L-82.0,26.5 L-82.25,26.9 L-82.6,27.35 L-82.75,27.85 L-82.7,28.3 L-82.65,28.75 L-83.0,29.05 L-83.4,29.45 L-83.7,29.95 L-84.1,30.1 L-84.4,29.95 L-84.9,29.7 L-85.3,29.68 L-85.45,29.95 L-85.8,30.2 L-86.3,30.4 L-86.9,30.4 L-87.55,30.28 L-87.9,30.25 L-88.05,30.65 L-88.15,30.35 L-88.4,30.38 L-89.0,30.38 L-89.4,30.3 L-89.6,30.17 L-89.75,30.05 L-89.7,29.85 L-89.45,29.65 L-89.2,29.35 L-89.0,29.2 L-89.35,29.05 L-89.7,29.3 L-90.1,29.15 L-90.35,29.1 L-90.9,29.05 L-91.3,29.3 L-91.85,29.5 L-92.3,29.55 L-93.0,29.75 L-93.85,29.7 L-94.4,29.55 L-94.8,29.3 L-95.25,28.95 L-96.0,28.6 L-96.65,28.25 L-97.05,27.85 L-97.3,27.4 L-97.4,26.8 L-97.2,26.1 L-97.15,25.96 L-97.45,25.85 L-98.0,26.05 L-98.5,26.2 L-99.1,26.5 L-99.4,27.05 L-99.5,27.5 L-100.1,28.15 L-100.4,28.6 L-100.65,29.1 L-101.0,29.4 L-101.4,29.77 L-102.0,29.8 L-102.4,29.75 L-102.7,29.5 L-102.9,29.2 L-103.15,28.98 L-103.45,29.05 L-103.8,29.3 L-104.3,29.55 L-104.7,30.0 L-104.95,30.6 L-105.5,31.0 L-106.0,31.4 L-106.53,31.78 L-108.21,31.78 L-108.21,31.33 L-111.07,31.33 L-114.82,32.5 L-114.72,32.72 L-117.12,32.53 L-117.25,32.85 L-117.4,33.2 L-117.9,33.6 L-118.3,33.72 L-118.45,34.0 L-118.8,34.02 L-119.3,34.28 L-119.8,34.42 L-120.47,34.45 L-120.65,34.9 L-120.65,35.2 L-121.0,35.55 L-121.5,36.0 L-121.9,36.35 L-121.95,36.6 L-121.8,36.85 L-122.05,36.95 L-122.4,37.2 L-122.5,37.5 L-122.5,37.8 L-122.95,38.0 L-123.0,38.3 L-123.7,38.95 L-123.8,39.5 L-123.85,39.85 L-124.2,40.15 L-124.4,40.45 L-124.1,41.0 L-124.2,41.75 L-124.25,42.0 L-124.45,42.6 L-124.4,43.3 L-124.15,43.8 L-124.05,44.6 L-123.95,45.5 L-123.95,46.25 L-124.05,46.35 L-124.1,46.9 L-124.2,47.3 L-124.5,47.9 Z M-74.0,40.58 L-73.5,40.6 L-72.5,40.8 L-71.85,41.07 L-72.4,40.98 L-73.0,40.95 L-73.7,40.88 L-73.95,40.7 Z"/>
<path vector-effect="non-scaling-stroke" stroke-width="8" d="M-122.75,48.95 L-122.55,48.6 L-122.6,48.2 L-122.45,47.8 L-122.4,47.4 L-122.6,47.1 L-122.9,47.2 L-122.7,47.6 L-122.8,48.0"/>
</g>
</g>

<g font-size="22" font-weight="bold">
<text class="l" x="1497" y="323">Earliest</text>
<text class="l" x="1497" y="351">date of 1st</text>
<text class="l" x="1497" y="379">gen. larval</text>
<text class="l" x="1497" y="407">development</text>
</g>
<g>
<rect x="1497" y="420.8" width="26" height="25.6" fill="#aaf5e0"/>
<rect x="1497" y="446.3" width="26" height="25.6" fill="#8ee6d4"/>
<rect x="1497" y="471.8" width="26" height="25.6" fill="#b8ffc0"/>
<rect x="1497" y="497.3" width="26" height="25.6" fill="#8ed08e"/>
<rect x="1497" y="522.8" width="26" height="25.6" fill="#64a864"/>
<rect x="1497" y="548.3" width="26" height="25.6" fill="#3c7d3c"/>
<rect x="1497" y="573.8" width="26" height="25.6" fill="#ccff00"/>
<rect x="1497" y="599.3" width="26" height="25.6" fill="#a8f000"/>
<rect x="1497" y="624.8" width="26" height="25.6" fill="#7ee000"/>
<rect x="1497" y="650.3" width="26" height="25.6" fill="#55d400"/>
<rect x="1497" y="675.8" width="26" height="25.6" fill="#ffff00"/>
<rect x="1497" y="701.3" width="26" height="25.6" fill="#dddd00"/>
<rect x="1497" y="726.8" width="26" height="25.6" fill="#bcb000"/>
<rect x="1497" y="752.3" width="26" height="25.6" fill="#9a840a"/>
<rect x="1497" y="777.8" width="26" height="25.2" fill="#7a5f0a"/>

<rect x="1624" y="420.8" width="26" height="25.6" fill="#fdd68a"/>
<rect x="1624" y="446.3" width="26" height="25.6" fill="#fdc06a"/>
<rect x="1624" y="471.8" width="26" height="25.6" fill="#fcab52"/>
<rect x="1624" y="497.3" width="26" height="25.6" fill="#fb9632"/>
<rect x="1624" y="522.8" width="26" height="25.6" fill="#f4c8c8"/>
<rect x="1624" y="548.3" width="26" height="25.6" fill="#f49a9a"/>
<rect x="1624" y="573.8" width="26" height="25.6" fill="#f86464"/>
<rect x="1624" y="599.3" width="26" height="25.6" fill="#fa3232"/>
<rect x="1624" y="624.8" width="26" height="25.6" fill="#e6b4aa"/>
<rect x="1624" y="650.3" width="26" height="25.6" fill="#c88c82"/>
<rect x="1624" y="675.8" width="26" height="25.6" fill="#b46a5a"/>
<rect x="1624" y="701.3" width="26" height="25.6" fill="#9a4632"/>
<rect x="1624" y="726.8" width="26" height="25.6" fill="#822010"/>
<rect x="1624" y="752.3" width="26" height="25.6" fill="#fcaad8"/>
<rect x="1624" y="777.8" width="26" height="25.2" fill="#ff82e6"/>

<rect x="1749" y="420.8" width="25" height="25.6" fill="#ff5ae6"/>
<rect x="1749" y="446.3" width="25" height="25.6" fill="#ff2ef0"/>
<rect x="1749" y="471.8" width="25" height="25.6" fill="#e0bce6"/>
<rect x="1749" y="497.3" width="25" height="25.6" fill="#c896d2"/>
<rect x="1749" y="522.8" width="25" height="25.6" fill="#b46ec8"/>
<rect x="1749" y="548.3" width="25" height="25.6" fill="#9a46b4"/>
<rect x="1749" y="573.8" width="25" height="25.6" fill="#b4ebff"/>
<rect x="1749" y="599.3" width="25" height="25.6" fill="#82d2f0"/>
<rect x="1749" y="624.8" width="25" height="25.6" fill="#5abee6"/>
<rect x="1749" y="650.3" width="25" height="25.6" fill="#2ea8dc"/>
<rect x="1749" y="675.8" width="25" height="25.6" fill="#a0c0e6"/>
<rect x="1749" y="701.3" width="25" height="25.6" fill="#7896ea"/>
<rect x="1749" y="726.8" width="25" height="25.6" fill="#5064f0"/>
<rect x="1749" y="752.3" width="25" height="25.6" fill="#2a32fa"/>
<rect x="1749" y="777.8" width="25" height="25.2" fill="#0000ff"/>
</g>
<g font-size="20.5">
<text class="l" x="1534" y="441.8">Feb-21</text>
<text class="l" x="1534" y="467.3">Feb-28</text>
<text class="l" x="1534" y="492.8">Mar-07</text>
<text class="l" x="1534" y="518.3">Mar-14</text>
<text class="l" x="1534" y="543.8">Mar-21</text>
<text class="l" x="1534" y="569.3">Mar-28</text>
<text class="l" x="1534" y="594.8">Apr-04</text>
<text class="l" x="1534" y="620.3">Apr-11</text>
<text class="l" x="1534" y="645.8">Apr-18</text>
<text class="l" x="1534" y="671.3">Apr-25</text>
<text class="l" x="1534" y="696.8">May-02</text>
<text class="l" x="1534" y="722.3">May-09</text>
<text class="l" x="1534" y="747.8">May-16</text>
<text class="l" x="1534" y="773.3">May-23</text>
<text class="l" x="1534" y="798.8">May-30</text>

<text class="l" x="1660" y="441.8">Jun-06</text>
<text class="l" x="1660" y="467.3">Jun-13</text>
<text class="l" x="1660" y="492.8">Jun-20</text>
<text class="l" x="1660" y="518.3">Jun-27</text>
<text class="l" x="1660" y="543.8">Jul-04</text>
<text class="l" x="1660" y="569.3">Jul-11</text>
<text class="l" x="1660" y="594.8">Jul-18</text>
<text class="l" x="1660" y="620.3">Jul-25</text>
<text class="l" x="1660" y="645.8">Aug-01</text>
<text class="l" x="1660" y="671.3">Aug-08</text>
<text class="l" x="1660" y="696.8">Aug-15</text>
<text class="l" x="1660" y="722.3">Aug-22</text>
<text class="l" x="1660" y="747.8">Aug-29</text>
<text class="l" x="1660" y="773.3">Sep-05</text>
<text class="l" x="1660" y="798.8">Sep-12</text>

<text class="l" x="1785" y="441.8">Sep-19</text>
<text class="l" x="1785" y="467.3">Sep-26</text>
<text class="l" x="1785" y="492.8">Oct-03</text>
<text class="l" x="1785" y="518.3">Oct-10</text>
<text class="l" x="1785" y="543.8">Oct-17</text>
<text class="l" x="1785" y="569.3">Oct-24</text>
<text class="l" x="1785" y="594.8">Nov-01</text>
<text class="l" x="1785" y="620.3">Nov-07</text>
<text class="l" x="1785" y="645.8">Nov-15</text>
<text class="l" x="1785" y="671.3">Nov-22</text>
<text class="l" x="1785" y="696.8">Dec-04</text>
<text class="l" x="1785" y="722.3">Dec-05</text>
<text class="l" x="1785" y="747.8">Dec-12</text>
<text class="l" x="1785" y="773.3">Dec-20</text>
<text class="l" x="1785" y="798.8">Dec-29</text>
</g>
</svg>
</body></html>
